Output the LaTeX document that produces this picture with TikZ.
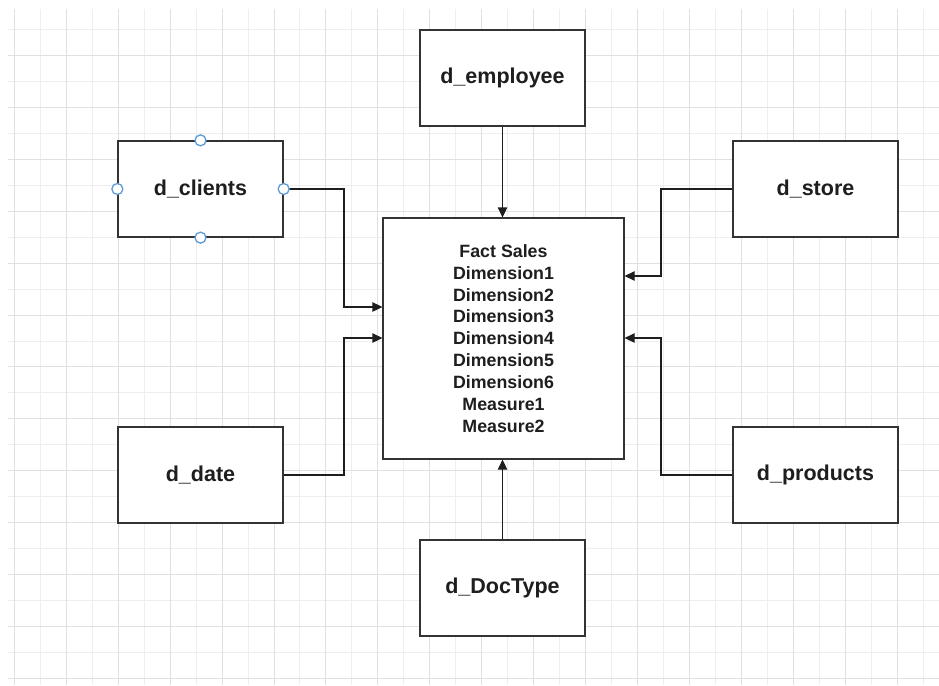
\documentclass[tikz,border=0pt]{standalone}
\usepackage{fontspec}
\setmainfont{Liberation Sans}
\usetikzlibrary{arrows.meta}
\definecolor{gridminor}{HTML}{EEEEEE}
\definecolor{gridmajor}{HTML}{E0E0E0}
\definecolor{edge}{HTML}{333333}
\definecolor{ink}{HTML}{1E1E1E}
\definecolor{handle}{HTML}{5E9BD8}

\begin{document}
\begin{tikzpicture}[x=1pt,y=-1pt,
  box/.style={draw=edge, line width=1.3pt, fill=white, minimum width=165pt,
    minimum height=96pt, inner sep=0pt, text=ink,
    font=\bfseries\fontsize{21.5}{24}\selectfont},
  factbox/.style={box, minimum width=241pt, minimum height=241pt, align=center,
    font=\bfseries\fontsize{17.8}{21.9}\selectfont},
  link/.style={draw=ink, line width=1.3pt, -{Triangle[length=10pt,width=9.5pt]}},
  knob/.style={circle, draw=handle, fill=white, line width=1.3pt,
    minimum size=11pt, inner sep=0pt},
  minorline/.style={draw=gridminor, line width=1pt},
  majorline/.style={draw=gridmajor, line width=1pt}]

  % page and grid
  \fill[white] (0,0) rectangle (939,685);
  \useasboundingbox (0,0) rectangle (939,685);
  \foreach \k in {1,3,...,35} \draw[minorline] ({14.3+25.97*\k},9) -- ({14.3+25.97*\k},685);
  \foreach \k in {0,2,...,24} \draw[minorline] (8,{30+25.92*\k}) -- (939,{30+25.92*\k});
  \foreach \k in {0,2,...,34} \draw[majorline] ({14.3+25.97*\k},9) -- ({14.3+25.97*\k},685);
  \foreach \k in {1,3,...,25} \draw[majorline] (8,{30+25.92*\k}) -- (939,{30+25.92*\k});

  % tables
  \node[box] (emp) at (502.5,78) {d\_employee};
  \node[box] (cli) at (200.5,189) {d\_clients};
  \node[box] (sto) at (815.5,189) {d\_store};
  \node[factbox] (fact) at (503.5,338.5)
    {Fact Sales\\Dimension1\\Dimension2\\Dimension3\\Dimension4\\Dimension5\\Dimension6\\Measure1\\Measure2};
  \node[box] (dat) at (200.5,475) {d\_date};
  \node[box] (prd) at (815.5,475) {d\_products};
  \node[box] (doc) at (502.5,588) {d\_DocType};

  % relations to the fact table
  \draw[link] (cli.east) -| (344,307) -- (fact.west |- 344,307);
  \draw[link] (dat.east) -| (344,338) -- (fact.west |- 344,338);
  \draw[link] (sto.west) -| (661,276) -- (fact.east |- 661,276);
  \draw[link] (prd.west) -| (661,338) -- (fact.east |- 661,338);
  \draw[link] (emp.south) -- (emp.south |- fact.north);
  \draw[link] (doc.north) -- (doc.north |- fact.south);

  % selection handles on d_clients
  \node[knob] (hn) at (cli.north) {};
  \node[knob] (hs) at (cli.south) {};
  \node[knob] (hw) at (cli.west) {};
  \node[knob] (he) at (cli.east) {};
\end{tikzpicture}
\end{document}
